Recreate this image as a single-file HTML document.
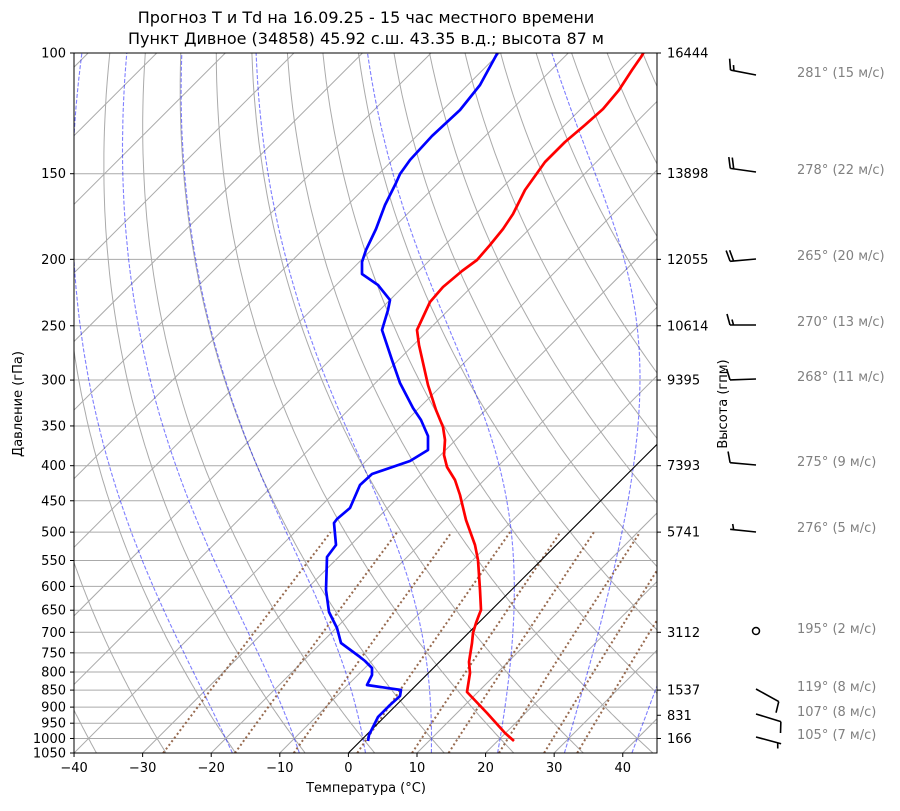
<!DOCTYPE html>
<html><head><meta charset="utf-8">
<style>
html,body{margin:0;padding:0;background:#fff;}
svg text{font-family:"DejaVu Sans","Liberation Sans",sans-serif;}
</style></head>
<body>
<svg id="s" width="900" height="806" xmlns="http://www.w3.org/2000/svg">
<defs><clipPath id="c"><rect x="74" y="53" width="583" height="700"/></clipPath></defs>
<rect width="900" height="806" fill="#fff"/>
<g id="grid" clip-path="url(#c)"></g>
<g id="data" clip-path="url(#c)"></g>
<rect x="74" y="53" width="583" height="700" fill="none" stroke="#000" stroke-width="1"/>
<g id="ax" font-size="13" fill="#000"></g>
<text x="366" y="23" text-anchor="middle" font-size="16">Прогноз T и Td на 16.09.25 - 15 час местного времени</text>
<text x="366" y="44" text-anchor="middle" font-size="16">Пункт Дивное (34858) 45.92 с.ш. 43.35 в.д.; высота 87 м</text>
<text x="366" y="792" text-anchor="middle" font-size="13">Температура (°C)</text>
<text transform="translate(22,404) rotate(-90)" text-anchor="middle" font-size="13">Давление (гПа)</text>
<text transform="translate(727,404) rotate(-90)" text-anchor="middle" font-size="13">Высота (гпм)</text>
<g id="wind"></g>
</svg>
<script>
var NS="http://www.w3.org/2000/svg";
function el(p,t,a,txt){var e=document.createElementNS(NS,t);for(var k in a)e.setAttribute(k,a[k]);if(txt!==undefined)e.textContent=txt;p.appendChild(e);return e;}
var X0=348.4,SC=6.859;
function Y(p){return 53+700*Math.log(p/100)/Math.log(10.5);}
function X(T,p){return X0+SC*T+(753-Y(p));}
var g=document.getElementById('grid'),d=document.getElementById('data'),ax=document.getElementById('ax'),w=document.getElementById('wind');
function path(par,pts,a){var s='';pts.forEach(function(q,i){s+=(i?'L':'M')+q[0].toFixed(1)+' '+q[1].toFixed(1);});a.d=s;a.fill='none';return el(par,'path',a);}
var P=[];for(var p=1050;p>=99.9;p-=5)P.push(p);
var lv=[100,150,200,250,300,350,400,450,500,550,600,650,700,750,800,850,900,950,1000,1050];
lv.forEach(function(p){var y=Y(p);el(g,'line',{x1:74,x2:657,y1:y,y2:y,stroke:'#aaa','stroke-width':1});});
for(var T=-160;T<=50;T+=10){el(g,'line',{x1:X0+SC*T,y1:753,x2:X0+SC*T+700,y2:53,stroke:'#aaa','stroke-width':1});}
for(var T0=-40;T0<=220;T0+=10){path(g,P.map(function(p){var T=(T0+273.15)*Math.pow(p/1000,0.2857)-273.15;return [X(T,p),Y(p)];}),{stroke:'#aaa','stroke-width':1});}
function es(Tc){return 6.112*Math.exp(17.67*Tc/(Tc+243.5));}
function dTdp(p,T){var Tc=T-273.15,e=es(Tc),rs=0.622*e/(p-e);var Rd=287.04,Cp=1005.7,Lv=2.501e6;
 return (Rd*T+Lv*rs)/(Cp+Lv*Lv*rs*0.622/(Rd*T*T))/p;}
function moist(T0){var T=T0+273.15,h;
 var pts=[];var Td=T;var pp=1000;h=1;while(pp<1050){var k1=dTdp(pp,Td),k2=dTdp(pp+h/2,Td+h/2*k1),k3=dTdp(pp+h/2,Td+h/2*k2),k4=dTdp(pp+h,Td+h*k3);Td+=h/6*(k1+2*k2+2*k3+k4);pp+=h;}
 pts.push([X(Td-273.15,1050),Y(1050)]);pts.push([X(T-273.15,1000),Y(1000)]);
 h=-1;pp=1000;var n=0;while(pp>100){var k1=dTdp(pp,T),k2=dTdp(pp+h/2,T+h/2*k1),k3=dTdp(pp+h/2,T+h/2*k2),k4=dTdp(pp+h,T+h*k3);T+=h/6*(k1+2*k2+2*k3+k4);pp+=h;n++;if(n%5==0)pts.push([X(T-273.15,pp),Y(pp)]);}
 return pts;}
for(var T0=-20;T0<=40;T0+=10){path(g,moist(T0),{stroke:'#0000ff','stroke-opacity':0.5,'stroke-width':1.1,'stroke-dasharray':'4 1.8'});}
[0.0004,0.001,0.002,0.004,0.007,0.01,0.016,0.024,0.032].forEach(function(m){var pts=[];for(var p=1050;p>=500;p-=10){var e=m*p/(0.622+m),l=Math.log(e/6.112),Td=243.5*l/(17.67-l);pts.push([X(Td,p),Y(p)]);}
 path(g,pts,{stroke:'#8c5a3c','stroke-opacity':0.9,'stroke-width':2,'stroke-dasharray':'2 2.6'});});
el(g,'line',{x1:X0,y1:753,x2:X0+700,y2:53,stroke:'#000','stroke-width':1.1});
var red=[[514,741],[505,733],[487,713],[467,692],[470,673],[469,662],[472,643],[473,633],[476,623],[479,615],[481,610],[480,590],[478,560],[475,545],[466,520],[460,495],[455,480],[447,467],[444,455],[445,440],[443,427],[436,410],[428,385],[419,345],[417,330],[430,302],[443,287],[462,271],[477,260],[490,245],[503,229],[513,214],[525,190],[545,162],[565,142],[585,125],[603,109],[619,90],[632,70],[641,57],[644,52]];
var blue=[[368,741],[369,735],[374,725],[378,717],[390,705],[400,696],[401,690],[367,685],[372,675],[372,668],[365,661],[360,657],[341,643],[337,628],[329,612],[326,590],[327,557],[336,545],[334,523],[337,519],[350,508],[360,485],[372,474],[410,461],[428,450],[428,436],[421,420],[413,408],[400,383],[392,360],[382,330],[388,310],[390,300],[378,285],[362,274],[362,262],[366,250],[376,229],[385,205],[396,183],[400,174],[410,160],[432,136],[460,110],[480,85],[498,52]];
path(d,red,{stroke:'#ff0000','stroke-width':2.7,'stroke-linejoin':'round'});
path(d,blue,{stroke:'#0000ff','stroke-width':2.7,'stroke-linejoin':'round'});
lv.forEach(function(p){var y=Y(p);el(ax,'line',{x1:70,x2:74,y1:y,y2:y,stroke:'#000'});el(ax,'text',{x:66,y:y+4.5,'text-anchor':'end'},String(p));});
for(var T=-40;T<=40;T+=10){var x=X0+SC*T;el(ax,'line',{x1:x,x2:x,y1:753,y2:757,stroke:'#000'});el(ax,'text',{x:x,y:772,'text-anchor':'middle'},(T<0?'−':'')+Math.abs(T));}
[[100,'16444'],[150,'13898'],[200,'12055'],[250,'10614'],[300,'9395'],[400,'7393'],[500,'5741'],[700,'3112'],[850,'1537'],[925,'831'],[1000,'166']].forEach(function(a){var y=Y(a[0]);el(ax,'line',{x1:657,x2:661,y1:y,y2:y,stroke:'#000'});el(ax,'text',{x:667,y:y+4.5},a[1]);});
var W=[[281,15,75,'281° (15 м/с)',72],[278,22,172,'278° (22 м/с)',169],[265,20,259,'265° (20 м/с)',255],[270,13,325,'270° (13 м/с)',321],[268,11,379,'268° (11 м/с)',376],[275,9,465,'275° (9 м/с)',461],[276,5,532,'276° (5 м/с)',527],[195,2,631,'195° (2 м/с)',628],[119,8,689,'119° (8 м/с)',686],[107,8,714,'107° (8 м/с)',711],[105,7,737,'105° (7 м/с)',734]];
W.forEach(function(a){var dd=a[0]*Math.PI/180,sp=a[1],sx=756,sy=a[2],L=26;
 el(w,'text',{x:797,y:a[4]+5,fill:'#808080','font-size':13},a[3]);
 if(sp<2.5){el(w,'circle',{cx:sx,cy:sy,r:3.5,fill:'none',stroke:'#000','stroke-width':1.5});return;}
 var ux=Math.sin(dd),uy=-Math.cos(dd),tx=sx+ux*L,ty=sy+uy*L;var fx=-uy,fy=ux;
 el(w,'line',{x1:sx,y1:sy,x2:tx,y2:ty,stroke:'#000','stroke-width':1.6});
 var r=Math.round(sp/5)*5,full=Math.floor(r/10),half=(r%10)>=5?1:0,pos=0,FL=11;
 for(var i=0;i<full;i++){var bx=tx-ux*pos,by=ty-uy*pos;el(w,'line',{x1:bx,y1:by,x2:bx+fx*FL+ux*3,y2:by+fy*FL+uy*3,stroke:'#000','stroke-width':1.6});pos+=3.5;}
 if(half){if(full==0)pos=3.5;var bx=tx-ux*pos,by=ty-uy*pos;el(w,'line',{x1:bx,y1:by,x2:bx+fx*FL/2+ux*1.5,y2:by+fy*FL/2+uy*1.5,stroke:'#000','stroke-width':1.6});}
});
</script>
</body></html>
